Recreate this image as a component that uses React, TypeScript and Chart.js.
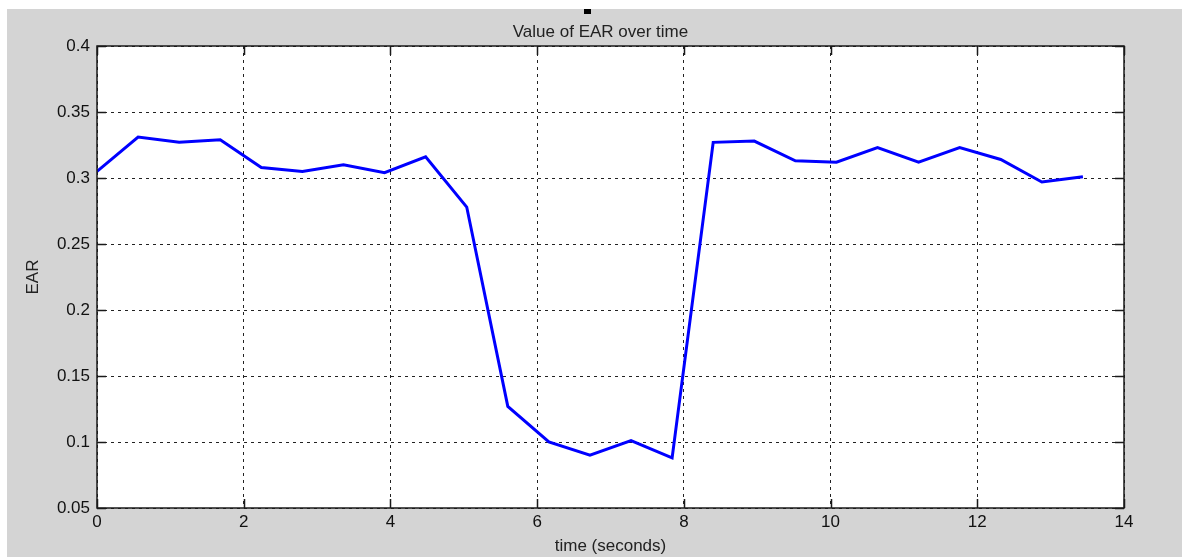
import React, { useEffect, useRef } from "react";
import { Chart, registerables } from "chart.js";

Chart.register(...registerables);

const chartTitle = "Value of EAR over time";
const xAxisTitle = "time (seconds)";
const yAxisTitle = "EAR";

const times = [0, 0.56, 1.12, 1.68, 2.24, 2.8, 3.36, 3.92, 4.48, 5.04, 5.6, 6.16, 6.72, 7.28, 7.84, 8.4, 8.96, 9.52, 10.08, 10.64, 11.2, 11.76, 12.32, 12.88, 13.44];
const earValues = [0.305, 0.331, 0.327, 0.329, 0.308, 0.305, 0.310, 0.304, 0.316, 0.278, 0.127, 0.100, 0.090, 0.101, 0.088, 0.327, 0.328, 0.313, 0.312, 0.323, 0.312, 0.323, 0.314, 0.297, 0.301];

const xMin = 0;
const xMax = 14;
const xStep = 2;
const yMin = 0.05;
const yMax = 0.4;
const yStep = 0.05;

const FONT = "'Liberation Sans', Arial, sans-serif";

const boxPlugin = {
  id: "matlabBox",
  beforeDraw(chart: any) {
    const { ctx, chartArea } = chart;
    ctx.save();
    ctx.fillStyle = "#ffffff";
    ctx.fillRect(chartArea.left, chartArea.top, chartArea.right - chartArea.left, chartArea.bottom - chartArea.top);
    ctx.restore();
  },
  afterDraw(chart: any) {
    const { ctx, chartArea } = chart;
    const { left, right, top, bottom } = chartArea;
    const xs = chart.scales.x;
    const ys = chart.scales.y;
    const tl = 9;
    ctx.save();
    ctx.strokeStyle = "#1a1a1a";
    ctx.lineWidth = 1.5;
    ctx.setLineDash([]);
    ctx.beginPath();
    xs.ticks.forEach((t: any) => {
      const px = Math.round(xs.getPixelForValue(t.value)) + 0.5;
      ctx.moveTo(px, bottom);
      ctx.lineTo(px, bottom - tl);
      ctx.moveTo(px, top);
      ctx.lineTo(px, top + tl);
    });
    ys.ticks.forEach((t: any) => {
      const py = Math.round(ys.getPixelForValue(t.value)) + 0.5;
      ctx.moveTo(left, py);
      ctx.lineTo(left + tl, py);
      ctx.moveTo(right, py);
      ctx.lineTo(right - tl, py);
    });
    ctx.stroke();
    ctx.strokeRect(left, top, right - left, bottom - top);
    ctx.restore();
  },
};

export default function App() {
  const canvasRef = useRef<HTMLCanvasElement | null>(null);

  useEffect(() => {
    document.body.style.margin = "0";
    const canvas = canvasRef.current;
    if (!canvas) return;
    const points = times.map((t, i) => ({ x: t, y: earValues[i] }));
    const chart = new Chart(canvas, {
      type: "line",
      data: {
        datasets: [
          {
            data: points,
            borderColor: "#0000ff",
            borderWidth: 3,
            pointRadius: 0,
            tension: 0,
            fill: false,
          },
        ],
      },
      options: {
        animation: false,
        responsive: false,
        maintainAspectRatio: false,
        layout: { padding: { left: 19, right: 0, top: 0, bottom: 0 } },
        plugins: {
          legend: { display: false },
          tooltip: { enabled: false },
          title: {
            display: true,
            text: chartTitle,
            color: "#222222",
            font: { family: FONT, size: 17, weight: "normal", lineHeight: 1 },
            padding: { top: 24, bottom: 5 },
          },
        },
        scales: {
          x: {
            type: "linear",
            min: xMin,
            max: xMax,
            afterFit: (s: any) => {
              s.height = 49;
            },
            ticks: {
              stepSize: xStep,
              color: "#111111",
              font: { family: FONT, size: 17 },
              padding: 4,
              maxRotation: 0,
            },
            grid: { color: "#222222", lineWidth: 1, drawTicks: false },
            border: { display: false, dash: [3, 4] },
            title: {
              display: true,
              text: xAxisTitle,
              color: "#222222",
              font: { family: FONT, size: 17, lineHeight: 1.2 },
              padding: { top: 0, bottom: 0 },
            },
          },
          y: {
            type: "linear",
            min: yMin,
            max: yMax,
            afterFit: (s: any) => {
              s.width = 78;
            },
            ticks: {
              stepSize: yStep,
              color: "#111111",
              font: { family: FONT, size: 17 },
              padding: 7,
              callback: (v: any) => String(Math.round(Number(v) * 100) / 100),
            },
            grid: { color: "#222222", lineWidth: 1, drawTicks: false },
            border: { display: false, dash: [3, 4] },
            title: {
              display: true,
              text: yAxisTitle,
              color: "#222222",
              font: { family: FONT, size: 17, lineHeight: 1.2 },
              padding: { top: 4, bottom: 0 },
            },
          },
          yRight: {
            type: "linear",
            position: "right",
            display: true,
            afterFit: (s: any) => {
              s.width = 58;
            },
            ticks: { display: false },
            grid: { display: false, drawTicks: false },
            border: { display: false },
          },
        },
      },
      plugins: [boxPlugin],
    } as any);
    return () => chart.destroy();
  }, []);

  return (
    <div style={{ position: "relative", width: 1182, height: 557, background: "#ffffff", overflow: "hidden" }}>
      <div style={{ position: "absolute", left: 7, top: 9, width: 1175, height: 548, background: "#d4d4d4" }} />
      <div style={{ position: "absolute", left: 584, top: 9, width: 7, height: 5, background: "#000000" }} />
      <canvas ref={canvasRef} width={1182} height={557} style={{ position: "absolute", left: 0, top: 0 }} />
    </div>
  );
}
